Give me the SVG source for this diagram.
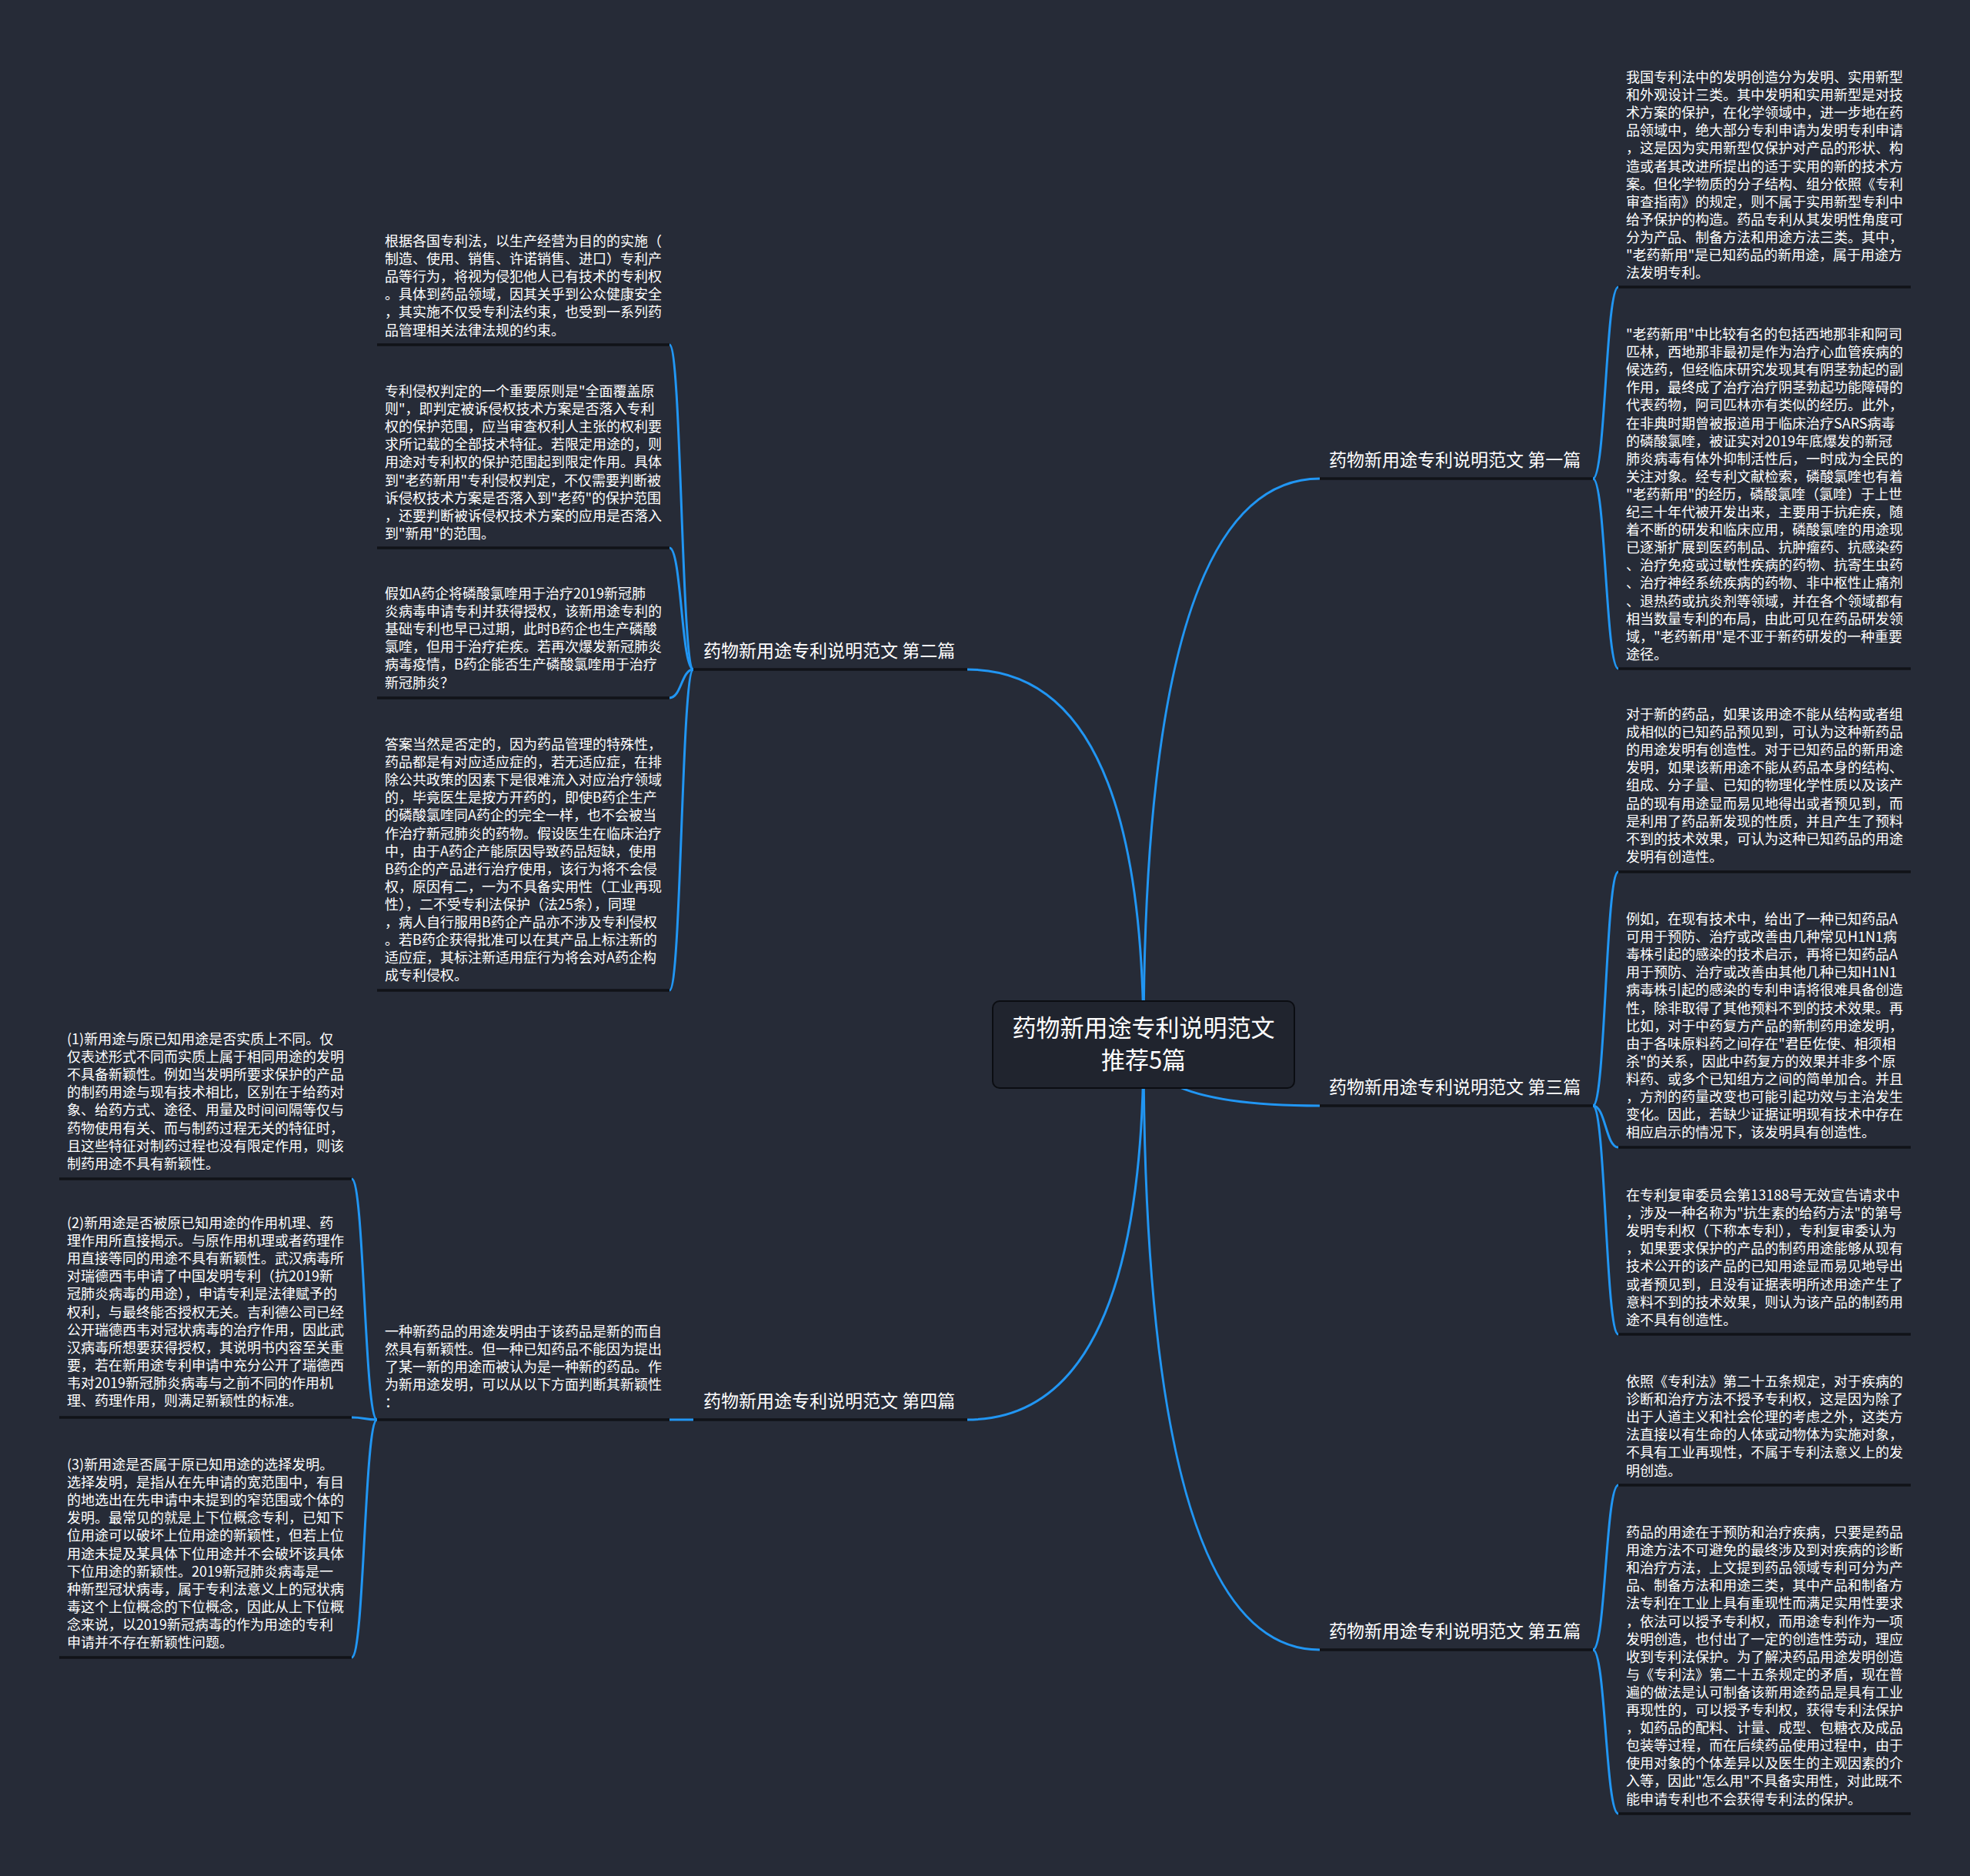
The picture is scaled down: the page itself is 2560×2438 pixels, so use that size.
<svg xmlns="http://www.w3.org/2000/svg" width="2560" height="2438" viewBox="0 0 2560 2438">
<style>
.t{font-family:"Noto Sans CJK SC","Noto Sans",sans-serif;font-size:18px;fill:#ffffff}
.b{font-family:"Noto Sans CJK SC","Noto Sans",sans-serif;font-size:23px;fill:#ffffff}
.c{font-family:"Noto Sans CJK SC","Noto Sans",sans-serif;font-size:31px;fill:#ffffff;text-anchor:middle}
.ul{stroke:#111318;stroke-width:3.5}
.con{fill:none;stroke:#2196f3;stroke-width:3}
</style>
<rect width="2560" height="2438" fill="#262b37"/>
<g id="connectors">
<path class="con" d="M1486 1357 Q1486 622 1715 622"/>
<path class="con" d="M1486 1357 Q1486 870 1257 870"/>
<path class="con" d="M1486 1357 Q1486 1437 1715 1437"/>
<path class="con" d="M1486 1357 Q1486 1845 1257 1845"/>
<path class="con" d="M1486 1357 Q1486 2144 1715 2144"/>
<path class="con" d="M2070 622 C2086.5 622 2086.5 373 2103 373"/>
<path class="con" d="M2070 622 C2086.5 622 2086.5 869 2103 869"/>
<path class="con" d="M2070 1437 C2086.5 1437 2086.5 1133 2103 1133"/>
<path class="con" d="M2070 1437 C2086.5 1437 2086.5 1491 2103 1491"/>
<path class="con" d="M2070 1437 C2086.5 1437 2086.5 1734 2103 1734"/>
<path class="con" d="M2070 2144 C2086.5 2144 2086.5 1930 2103 1930"/>
<path class="con" d="M2070 2144 C2086.5 2144 2086.5 2357 2103 2357"/>
<path class="con" d="M901 870 C885.5 870 885.5 448 870 448"/>
<path class="con" d="M901 870 C885.5 870 885.5 712 870 712"/>
<path class="con" d="M901 870 C885.5 870 885.5 907 870 907"/>
<path class="con" d="M901 870 C885.5 870 885.5 1287 870 1287"/>
<path class="con" d="M901 1845 L870 1845"/>
<path class="con" d="M490 1845 C473.5 1845 473.5 1532 457 1532"/>
<path class="con" d="M490 1845 C473.5 1845 473.5 1842 457 1842"/>
<path class="con" d="M490 1845 C473.5 1845 473.5 2154 457 2154"/>
</g>
<g id="root">
<rect x="1290" y="1301" width="392" height="113" rx="9" fill="#20242e" stroke="#0b0d12" stroke-width="2"/>
<text class="c" x="1486" y="1347">药物新用途专利说明范文</text>
<text class="c" x="1486" y="1389">推荐5篇</text>
</g>
<g id="b1">
<text class="b" x="1727" y="606">药物新用途专利说明范文 第一篇</text>
<line class="ul" x1="1715" y1="622" x2="2070" y2="622"/>
</g>
<g id="b2">
<text class="b" x="914" y="854">药物新用途专利说明范文 第二篇</text>
<line class="ul" x1="901" y1="870" x2="1257" y2="870"/>
</g>
<g id="b3">
<text class="b" x="1727" y="1421">药物新用途专利说明范文 第三篇</text>
<line class="ul" x1="1715" y1="1437" x2="2070" y2="1437"/>
</g>
<g id="b4">
<text class="b" x="914" y="1829">药物新用途专利说明范文 第四篇</text>
<line class="ul" x1="901" y1="1845" x2="1257" y2="1845"/>
</g>
<g id="b5">
<text class="b" x="1727" y="2128">药物新用途专利说明范文 第五篇</text>
<line class="ul" x1="1715" y1="2144" x2="2070" y2="2144"/>
</g>
<g id="r1">
<text class="t" x="2113" y="107"><tspan x="2113">我国专利法中的发明创造分为发明、实用新型</tspan><tspan x="2113" dy="23.1">和外观设计三类。其中发明和实用新型是对技</tspan><tspan x="2113" dy="23.1">术方案的保护，在化学领域中，进一步地在药</tspan><tspan x="2113" dy="23.1">品领域中，绝大部分专利申请为发明专利申请</tspan><tspan x="2113" dy="23.1">，这是因为实用新型仅保护对产品的形状、构</tspan><tspan x="2113" dy="23.1">造或者其改进所提出的适于实用的新的技术方</tspan><tspan x="2113" dy="23.1">案。但化学物质的分子结构、组分依照《专利</tspan><tspan x="2113" dy="23.1">审查指南》的规定，则不属于实用新型专利中</tspan><tspan x="2113" dy="23.1">给予保护的构造。药品专利从其发明性角度可</tspan><tspan x="2113" dy="23.1">分为产品、制备方法和用途方法三类。其中，</tspan><tspan x="2113" dy="23.1">"老药新用"是已知药品的新用途，属于用途方</tspan><tspan x="2113" dy="23.1">法发明专利。</tspan></text>
<line class="ul" x1="2103" y1="373" x2="2483" y2="373"/>
</g>
<g id="r2">
<text class="t" x="2113" y="441"><tspan x="2113">"老药新用"中比较有名的包括西地那非和阿司</tspan><tspan x="2113" dy="23.1">匹林，西地那非最初是作为治疗心血管疾病的</tspan><tspan x="2113" dy="23.1">候选药，但经临床研究发现其有阴茎勃起的副</tspan><tspan x="2113" dy="23.1">作用，最终成了治疗治疗阴茎勃起功能障碍的</tspan><tspan x="2113" dy="23.1">代表药物，阿司匹林亦有类似的经历。此外，</tspan><tspan x="2113" dy="23.1">在非典时期曾被报道用于临床治疗SARS病毒</tspan><tspan x="2113" dy="23.1">的磷酸氯喹，被证实对2019年底爆发的新冠</tspan><tspan x="2113" dy="23.1">肺炎病毒有体外抑制活性后，一时成为全民的</tspan><tspan x="2113" dy="23.1">关注对象。经专利文献检索，磷酸氯喹也有着</tspan><tspan x="2113" dy="23.1">"老药新用"的经历，磷酸氯喹（氯喹）于上世</tspan><tspan x="2113" dy="23.1">纪三十年代被开发出来，主要用于抗疟疾，随</tspan><tspan x="2113" dy="23.1">着不断的研发和临床应用，磷酸氯喹的用途现</tspan><tspan x="2113" dy="23.1">已逐渐扩展到医药制品、抗肿瘤药、抗感染药</tspan><tspan x="2113" dy="23.1">、治疗免疫或过敏性疾病的药物、抗寄生虫药</tspan><tspan x="2113" dy="23.1">、治疗神经系统疾病的药物、非中枢性止痛剂</tspan><tspan x="2113" dy="23.1">、退热药或抗炎剂等领域，并在各个领域都有</tspan><tspan x="2113" dy="23.1">相当数量专利的布局，由此可见在药品研发领</tspan><tspan x="2113" dy="23.1">域，"老药新用"是不亚于新药研发的一种重要</tspan><tspan x="2113" dy="23.1">途径。</tspan></text>
<line class="ul" x1="2103" y1="869" x2="2483" y2="869"/>
</g>
<g id="r3">
<text class="t" x="2113" y="935"><tspan x="2113">对于新的药品，如果该用途不能从结构或者组</tspan><tspan x="2113" dy="23.1">成相似的已知药品预见到，可认为这种新药品</tspan><tspan x="2113" dy="23.1">的用途发明有创造性。对于已知药品的新用途</tspan><tspan x="2113" dy="23.1">发明，如果该新用途不能从药品本身的结构、</tspan><tspan x="2113" dy="23.1">组成、分子量、已知的物理化学性质以及该产</tspan><tspan x="2113" dy="23.1">品的现有用途显而易见地得出或者预见到，而</tspan><tspan x="2113" dy="23.1">是利用了药品新发现的性质，并且产生了预料</tspan><tspan x="2113" dy="23.1">不到的技术效果，可认为这种已知药品的用途</tspan><tspan x="2113" dy="23.1">发明有创造性。</tspan></text>
<line class="ul" x1="2103" y1="1133" x2="2483" y2="1133"/>
</g>
<g id="r4">
<text class="t" x="2113" y="1201"><tspan x="2113">例如，在现有技术中，给出了一种已知药品A</tspan><tspan x="2113" dy="23.1">可用于预防、治疗或改善由几种常见H1N1病</tspan><tspan x="2113" dy="23.1">毒株引起的感染的技术启示，再将已知药品A</tspan><tspan x="2113" dy="23.1">用于预防、治疗或改善由其他几种已知H1N1</tspan><tspan x="2113" dy="23.1">病毒株引起的感染的专利申请将很难具备创造</tspan><tspan x="2113" dy="23.1">性，除非取得了其他预料不到的技术效果。再</tspan><tspan x="2113" dy="23.1">比如，对于中药复方产品的新制药用途发明，</tspan><tspan x="2113" dy="23.1">由于各味原料药之间存在"君臣佐使、相须相</tspan><tspan x="2113" dy="23.1">杀"的关系，因此中药复方的效果并非多个原</tspan><tspan x="2113" dy="23.1">料药、或多个已知组方之间的简单加合。并且</tspan><tspan x="2113" dy="23.1">，方剂的药量改变也可能引起功效与主治发生</tspan><tspan x="2113" dy="23.1">变化。因此，若缺少证据证明现有技术中存在</tspan><tspan x="2113" dy="23.1">相应启示的情况下，该发明具有创造性。</tspan></text>
<line class="ul" x1="2103" y1="1491" x2="2483" y2="1491"/>
</g>
<g id="r5">
<text class="t" x="2113" y="1560"><tspan x="2113">在专利复审委员会第13188号无效宣告请求中</tspan><tspan x="2113" dy="23.1">，涉及一种名称为"抗生素的给药方法"的第号</tspan><tspan x="2113" dy="23.1">发明专利权（下称本专利），专利复审委认为</tspan><tspan x="2113" dy="23.1">，如果要求保护的产品的制药用途能够从现有</tspan><tspan x="2113" dy="23.1">技术公开的该产品的已知用途显而易见地导出</tspan><tspan x="2113" dy="23.1">或者预见到，且没有证据表明所述用途产生了</tspan><tspan x="2113" dy="23.1">意料不到的技术效果，则认为该产品的制药用</tspan><tspan x="2113" dy="23.1">途不具有创造性。</tspan></text>
<line class="ul" x1="2103" y1="1734" x2="2483" y2="1734"/>
</g>
<g id="r6">
<text class="t" x="2113" y="1802"><tspan x="2113">依照《专利法》第二十五条规定，对于疾病的</tspan><tspan x="2113" dy="23.1">诊断和治疗方法不授予专利权，这是因为除了</tspan><tspan x="2113" dy="23.1">出于人道主义和社会伦理的考虑之外，这类方</tspan><tspan x="2113" dy="23.1">法直接以有生命的人体或动物体为实施对象，</tspan><tspan x="2113" dy="23.1">不具有工业再现性，不属于专利法意义上的发</tspan><tspan x="2113" dy="23.1">明创造。</tspan></text>
<line class="ul" x1="2103" y1="1930" x2="2483" y2="1930"/>
</g>
<g id="r7">
<text class="t" x="2113" y="1998"><tspan x="2113">药品的用途在于预防和治疗疾病，只要是药品</tspan><tspan x="2113" dy="23.1">用途方法不可避免的最终涉及到对疾病的诊断</tspan><tspan x="2113" dy="23.1">和治疗方法，上文提到药品领域专利可分为产</tspan><tspan x="2113" dy="23.1">品、制备方法和用途三类，其中产品和制备方</tspan><tspan x="2113" dy="23.1">法专利在工业上具有重现性而满足实用性要求</tspan><tspan x="2113" dy="23.1">，依法可以授予专利权，而用途专利作为一项</tspan><tspan x="2113" dy="23.1">发明创造，也付出了一定的创造性劳动，理应</tspan><tspan x="2113" dy="23.1">收到专利法保护。为了解决药品用途发明创造</tspan><tspan x="2113" dy="23.1">与《专利法》第二十五条规定的矛盾，现在普</tspan><tspan x="2113" dy="23.1">遍的做法是认可制备该新用途药品是具有工业</tspan><tspan x="2113" dy="23.1">再现性的，可以授予专利权，获得专利法保护</tspan><tspan x="2113" dy="23.1">，如药品的配料、计量、成型、包糖衣及成品</tspan><tspan x="2113" dy="23.1">包装等过程，而在后续药品使用过程中，由于</tspan><tspan x="2113" dy="23.1">使用对象的个体差异以及医生的主观因素的介</tspan><tspan x="2113" dy="23.1">入等，因此"怎么用"不具备实用性，对此既不</tspan><tspan x="2113" dy="23.1">能申请专利也不会获得专利法的保护。</tspan></text>
<line class="ul" x1="2103" y1="2357" x2="2483" y2="2357"/>
</g>
<g id="l1">
<text class="t" x="500" y="320"><tspan x="500">根据各国专利法，以生产经营为目的的实施（</tspan><tspan x="500" dy="23.1">制造、使用、销售、许诺销售、进口）专利产</tspan><tspan x="500" dy="23.1">品等行为，将视为侵犯他人已有技术的专利权</tspan><tspan x="500" dy="23.1">。具体到药品领域，因其关乎到公众健康安全</tspan><tspan x="500" dy="23.1">，其实施不仅受专利法约束，也受到一系列药</tspan><tspan x="500" dy="23.1">品管理相关法律法规的约束。</tspan></text>
<line class="ul" x1="490" y1="448" x2="870" y2="448"/>
</g>
<g id="l2">
<text class="t" x="500" y="515"><tspan x="500">专利侵权判定的一个重要原则是"全面覆盖原</tspan><tspan x="500" dy="23.1">则"，即判定被诉侵权技术方案是否落入专利</tspan><tspan x="500" dy="23.1">权的保护范围，应当审查权利人主张的权利要</tspan><tspan x="500" dy="23.1">求所记载的全部技术特征。若限定用途的，则</tspan><tspan x="500" dy="23.1">用途对专利权的保护范围起到限定作用。具体</tspan><tspan x="500" dy="23.1">到"老药新用"专利侵权判定，不仅需要判断被</tspan><tspan x="500" dy="23.1">诉侵权技术方案是否落入到"老药"的保护范围</tspan><tspan x="500" dy="23.1">，还要判断被诉侵权技术方案的应用是否落入</tspan><tspan x="500" dy="23.1">到"新用"的范围。</tspan></text>
<line class="ul" x1="490" y1="712" x2="870" y2="712"/>
</g>
<g id="l3">
<text class="t" x="500" y="778"><tspan x="500">假如A药企将磷酸氯喹用于治疗2019新冠肺</tspan><tspan x="500" dy="23.1">炎病毒申请专利并获得授权，该新用途专利的</tspan><tspan x="500" dy="23.1">基础专利也早已过期，此时B药企也生产磷酸</tspan><tspan x="500" dy="23.1">氯喹，但用于治疗疟疾。若再次爆发新冠肺炎</tspan><tspan x="500" dy="23.1">病毒疫情，B药企能否生产磷酸氯喹用于治疗</tspan><tspan x="500" dy="23.1">新冠肺炎？</tspan></text>
<line class="ul" x1="490" y1="907" x2="870" y2="907"/>
</g>
<g id="l4">
<text class="t" x="500" y="974"><tspan x="500">答案当然是否定的，因为药品管理的特殊性，</tspan><tspan x="500" dy="23.1">药品都是有对应适应症的，若无适应症，在排</tspan><tspan x="500" dy="23.1">除公共政策的因素下是很难流入对应治疗领域</tspan><tspan x="500" dy="23.1">的，毕竟医生是按方开药的，即使B药企生产</tspan><tspan x="500" dy="23.1">的磷酸氯喹同A药企的完全一样，也不会被当</tspan><tspan x="500" dy="23.1">作治疗新冠肺炎的药物。假设医生在临床治疗</tspan><tspan x="500" dy="23.1">中，由于A药企产能原因导致药品短缺，使用</tspan><tspan x="500" dy="23.1">B药企的产品进行治疗使用，该行为将不会侵</tspan><tspan x="500" dy="23.1">权，原因有二，一为不具备实用性（工业再现</tspan><tspan x="500" dy="23.1">性），二不受专利法保护（法25条），同理</tspan><tspan x="500" dy="23.1">，病人自行服用B药企产品亦不涉及专利侵权</tspan><tspan x="500" dy="23.1">。若B药企获得批准可以在其产品上标注新的</tspan><tspan x="500" dy="23.1">适应症，其标注新适用症行为将会对A药企构</tspan><tspan x="500" dy="23.1">成专利侵权。</tspan></text>
<line class="ul" x1="490" y1="1287" x2="870" y2="1287"/>
</g>
<g id="l5">
<text class="t" x="500" y="1737"><tspan x="500">一种新药品的用途发明由于该药品是新的而自</tspan><tspan x="500" dy="23.1">然具有新颖性。但一种已知药品不能因为提出</tspan><tspan x="500" dy="23.1">了某一新的用途而被认为是一种新的药品。作</tspan><tspan x="500" dy="23.1">为新用途发明，可以从以下方面判断其新颖性</tspan><tspan x="500" dy="23.1">：</tspan></text>
<line class="ul" x1="490" y1="1845" x2="870" y2="1845"/>
</g>
<g id="f1">
<text class="t" x="87" y="1357"><tspan x="87">(1)新用途与原已知用途是否实质上不同。仅</tspan><tspan x="87" dy="23.1">仅表述形式不同而实质上属于相同用途的发明</tspan><tspan x="87" dy="23.1">不具备新颖性。例如当发明所要求保护的产品</tspan><tspan x="87" dy="23.1">的制药用途与现有技术相比，区别在于给药对</tspan><tspan x="87" dy="23.1">象、给药方式、途径、用量及时间间隔等仅与</tspan><tspan x="87" dy="23.1">药物使用有关、而与制药过程无关的特征时，</tspan><tspan x="87" dy="23.1">且这些特征对制药过程也没有限定作用，则该</tspan><tspan x="87" dy="23.1">制药用途不具有新颖性。</tspan></text>
<line class="ul" x1="77" y1="1532" x2="457" y2="1532"/>
</g>
<g id="f2">
<text class="t" x="87" y="1596"><tspan x="87">(2)新用途是否被原已知用途的作用机理、药</tspan><tspan x="87" dy="23.1">理作用所直接揭示。与原作用机理或者药理作</tspan><tspan x="87" dy="23.1">用直接等同的用途不具有新颖性。武汉病毒所</tspan><tspan x="87" dy="23.1">对瑞德西韦申请了中国发明专利（抗2019新</tspan><tspan x="87" dy="23.1">冠肺炎病毒的用途），申请专利是法律赋予的</tspan><tspan x="87" dy="23.1">权利，与最终能否授权无关。吉利德公司已经</tspan><tspan x="87" dy="23.1">公开瑞德西韦对冠状病毒的治疗作用，因此武</tspan><tspan x="87" dy="23.1">汉病毒所想要获得授权，其说明书内容至关重</tspan><tspan x="87" dy="23.1">要，若在新用途专利申请中充分公开了瑞德西</tspan><tspan x="87" dy="23.1">韦对2019新冠肺炎病毒与之前不同的作用机</tspan><tspan x="87" dy="23.1">理、药理作用，则满足新颖性的标准。</tspan></text>
<line class="ul" x1="77" y1="1842" x2="457" y2="1842"/>
</g>
<g id="f3">
<text class="t" x="87" y="1910"><tspan x="87">(3)新用途是否属于原已知用途的选择发明。</tspan><tspan x="87" dy="23.1">选择发明，是指从在先申请的宽范围中，有目</tspan><tspan x="87" dy="23.1">的地选出在先申请中未提到的窄范围或个体的</tspan><tspan x="87" dy="23.1">发明。最常见的就是上下位概念专利，已知下</tspan><tspan x="87" dy="23.1">位用途可以破坏上位用途的新颖性，但若上位</tspan><tspan x="87" dy="23.1">用途未提及某具体下位用途并不会破坏该具体</tspan><tspan x="87" dy="23.1">下位用途的新颖性。2019新冠肺炎病毒是一</tspan><tspan x="87" dy="23.1">种新型冠状病毒，属于专利法意义上的冠状病</tspan><tspan x="87" dy="23.1">毒这个上位概念的下位概念，因此从上下位概</tspan><tspan x="87" dy="23.1">念来说，以2019新冠病毒的作为用途的专利</tspan><tspan x="87" dy="23.1">申请并不存在新颖性问题。</tspan></text>
<line class="ul" x1="77" y1="2154" x2="457" y2="2154"/>
</g>
</svg>
